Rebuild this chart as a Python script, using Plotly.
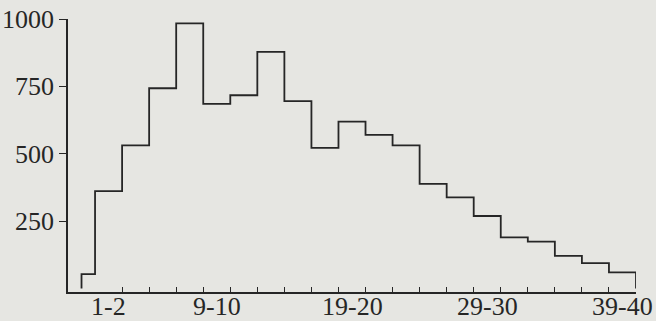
import plotly.graph_objects as go

# Age groups (years) and counts
bin_labels = ["0", "1-2", "3-4", "5-6", "7-8", "9-10", "11-12", "13-14", "15-16", "17-18",
              "19-20", "21-22", "23-24", "25-26", "27-28", "29-30", "31-32", "33-34",
              "35-36", "37-38", "39-40"]
bin_lo = [0, 1, 3, 5, 7, 9, 11, 13, 15, 17, 19, 21, 23, 25, 27, 29, 31, 33, 35, 37, 39]
bin_hi = [0, 2, 4, 6, 8, 10, 12, 14, 16, 18, 20, 22, 24, 26, 28, 30, 32, 34, 36, 38, 40]
counts = [53, 361, 531, 743, 984, 685, 717, 878, 695, 522,
          619, 570, 531, 388, 338, 269, 190, 174, 121, 94, 60]
shown_labels = ["1-2", "9-10", "19-20", "29-30", "39-40"]
y_ticks = [250, 500, 750, 1000]

left_edges = [lo - 0.5 for lo in bin_lo]
right_edges = [hi + 0.5 for hi in bin_hi]

xs = [left_edges[0]] + left_edges + [right_edges[-1]]
ys = [0] + counts + [0]

label_pos = [(bin_lo[bin_labels.index(l)] + bin_hi[bin_labels.index(l)]) / 2 for l in shown_labels]
inner_edges = right_edges[1:-1]

ink = "#262626"
paper = "#e6e6e2"
font = dict(family="Liberation Serif, DejaVu Serif, serif", size=26, color=ink)

fig = go.Figure(go.Scatter(x=xs, y=ys, mode="lines", line=dict(shape="hv", color=ink, width=1.8),
                           hoverinfo="skip", showlegend=False))

fig.update_layout(
    width=656, height=321, autosize=False,
    margin=dict(l=68, r=20, t=19, b=29, pad=0),
    paper_bgcolor=paper, plot_bgcolor=paper,
    font=font,
    xaxis=dict(range=[-1.5, 40.5], showgrid=False, zeroline=False, automargin=False,
               showline=True, linecolor=ink, linewidth=1.8,
               tickmode="array", tickvals=inner_edges, showticklabels=False,
               ticks="inside", ticklen=5, tickcolor=ink, tickwidth=1.4),
    yaxis=dict(range=[-13, 1000], showgrid=False, zeroline=False, automargin=False,
               showline=True, linecolor=ink, linewidth=1.8,
               tickmode="array", tickvals=y_ticks, ticktext=[str(v) for v in y_ticks],
               ticks="outside", ticklen=7, tickcolor=ink, tickwidth=1.4, tickfont=font),
)

for pos, lab in zip(label_pos, shown_labels):
    fig.add_annotation(x=pos, y=0, xref="x", yref="paper", yanchor="top", xanchor="center",
                       text=lab, showarrow=False, font=font, yshift=2)

fig.write_html("out.html", config={"displayModeBar": False},
               post_script="document.body.style.margin='0';")
